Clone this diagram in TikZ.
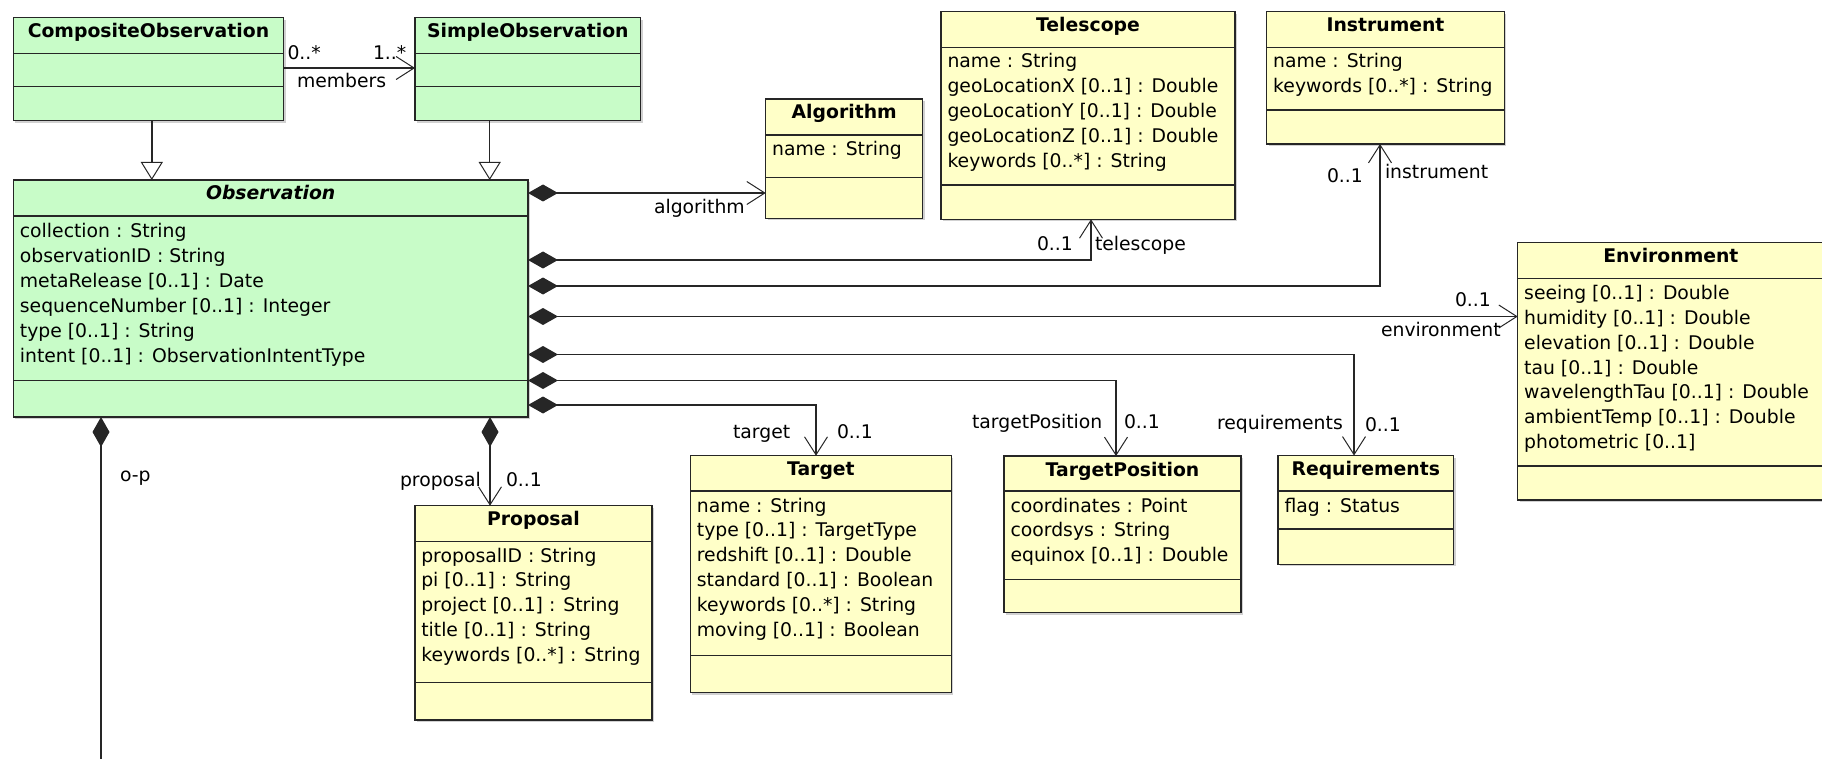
\documentclass[tikz,border=0pt]{standalone}
\usepackage{fontspec}
\setmainfont{DejaVu Sans}
\usetikzlibrary{arrows.meta,shadows}

\definecolor{umlgreen}{RGB}{200,252,200}
\definecolor{umlyellow}{RGB}{255,255,200}

\tikzset{
  every node/.style={font=\fontsize{18.8}{22}\selectfont, inner sep=0pt, outer sep=0pt},
  classbox/.style={draw=black!85, line width=1.5pt, inner sep=0pt, outer sep=0pt,
    general shadow={fill=black, opacity=0.18, shadow xshift=2pt, shadow yshift=-2pt}},
  sepline/.style={draw=black!85, line width=1.5pt},
  ctitle/.style={font=\fontsize{18.8}{22}\selectfont\bfseries, anchor=base},
  cattr/.style={anchor=base west},
  lbl/.style={anchor=base west},
  assoc/.style={draw=black!85, line width=1.5pt},
  navend/.style={-{Straight Barb[length=18pt,width=23pt,line width=1pt]}},
  compose/.style={{Diamond[length=30pt,width=17pt]}-{Straight Barb[length=18pt,width=23pt,line width=1pt]}},
  composeplain/.style={{Diamond[length=30pt,width=17pt]}-},
  inherit/.style={-{Triangle[length=18pt,width=22pt,line width=1pt,fill=white]}},
}

% class box: name, left, top, right, bottom, first separator, second separator, fill, title
\newcommand\umlclass[9]{%
  \node[classbox, fill=#8, minimum width={(#4-#2)*1pt}, minimum height={(#5-#3)*1pt},
        anchor=north west] (#1) at (#2,#3) {};
  \draw[sepline] (#2,#6) -- (#4,#6);
  \draw[sepline] (#2,#7) -- (#4,#7);
  \node[ctitle] (#1-t) at ({(#2+#4)/2},{#3+20}) {#9};
}
% attribute lines: class name, left, centre of first line, list
\newcommand\umlattrs[4]{%
  \foreach \a [count=\i] in {#4}
    \node[cattr] (#1-a\i) at ({#2+6.5},{#3+6+24.9*(\i-1)}) {\a};
}

\begin{document}
\begin{tikzpicture}[x=1pt,y=-1pt]
\useasboundingbox (0,0) rectangle (1822,759);
\clip (0,0) rectangle (1822,759);

% observation classes
\umlclass{comp}{13.4}{17.7}{283.5}{120.7}{53.3}{86.7}{umlgreen}{CompositeObservation}
\umlclass{simple}{415}{17.7}{640.6}{120.7}{53.3}{86.7}{umlgreen}{SimpleObservation}
\umlclass{obs}{13.4}{180}{528}{417}{216}{380.7}{umlgreen}{\itshape Observation}
\umlattrs{obs}{13.4}{232}{{collection : String},{observationID : String},{metaRelease [0..1] : Date},{sequenceNumber [0..1] : Integer},{type [0..1] : String},{intent [0..1] : ObservationIntentType}}

% provenance classes
\umlclass{alg}{765.7}{99}{922.7}{218.3}{135}{177.7}{umlyellow}{Algorithm}
\umlattrs{alg}{765.7}{150}{{name : String}}

\umlclass{tel}{941}{11.7}{1235}{219.3}{47.3}{185}{umlyellow}{Telescope}
\umlattrs{tel}{941}{61.7}{{name : String},{geoLocationX [0..1] : Double},{geoLocationY [0..1] : Double},{geoLocationZ [0..1] : Double},{keywords [0..*] : String}}

\umlclass{inst}{1266.7}{11.7}{1504.3}{144}{47.3}{110}{umlyellow}{Instrument}
\umlattrs{inst}{1266.7}{61.7}{{name : String},{keywords [0..*] : String}}

\umlclass{env}{1517.7}{242.7}{1824}{500}{278.3}{466}{umlyellow}{Environment}
\umlattrs{env}{1517.7}{293.3}{{seeing [0..1] : Double},{humidity [0..1] : Double},{elevation [0..1] : Double},{tau [0..1] : Double},{wavelengthTau [0..1] : Double},{ambientTemp [0..1] : Double},{photometric [0..1]}}

\umlclass{req}{1278}{455.5}{1453.5}{564.3}{491}{529}{umlyellow}{Requirements}
\umlattrs{req}{1278}{506}{{flag : Status}}

\umlclass{tpos}{1004}{456}{1241}{612.7}{491}{579.3}{umlyellow}{TargetPosition}
\umlattrs{tpos}{1004}{506}{{coordinates : Point},{coordsys : String},{equinox [0..1] : Double}}

\umlclass{target}{690.4}{455.7}{951.4}{692.7}{491}{655.7}{umlyellow}{Target}
\umlattrs{target}{690.4}{506}{{name : String},{type [0..1] : TargetType},{redshift [0..1] : Double},{standard [0..1] : Boolean},{keywords [0..*] : String},{moving [0..1] : Boolean}}

\umlclass{prop}{414.8}{505.7}{652}{720}{541.3}{682.3}{umlyellow}{Proposal}
\umlattrs{prop}{414.8}{556}{{proposalID : String},{pi [0..1] : String},{project [0..1] : String},{title [0..1] : String},{keywords [0..*] : String}}

% routing coordinates of the connectors
\coordinate (ymem) at (0,68);
\coordinate (xgc) at (151.8,0);
\coordinate (xgs) at (489.7,0);
\coordinate (yalg) at (0,193);
\coordinate (ytel) at (0,260);
\coordinate (xtel) at (1091,0);
\coordinate (yinst) at (0,286);
\coordinate (xinst) at (1380,0);
\coordinate (yenv) at (0,316.5);
\coordinate (yreq) at (0,354.5);
\coordinate (xreq) at (1354,0);
\coordinate (ytpos) at (0,380.5);
\coordinate (xtpos) at (1116,0);
\coordinate (ytgt) at (0,405);
\coordinate (xtgt) at (816,0);
\coordinate (xprop) at (490,0);
\coordinate (xop) at (101,0);
\coordinate (opend) at (101,775);

% members association
\draw[assoc, navend] (comp.east |- ymem) -- (simple.west |- ymem);
\node[lbl] (mem-m1) at (287.5,59.5) {0..*};
\node[lbl] (mem-m2) at (373,59.5) {1..*};
\node[lbl] (mem-r) at (297,88) {members};

% generalisations
\draw[assoc, inherit] (comp.south -| xgc) -- (obs.north -| xgc);
\draw[assoc, inherit] (simple.south -| xgs) -- (obs.north -| xgs);

% compositions from Observation
\draw[assoc, compose] (obs.east |- yalg) -- (alg.west |- yalg);
\node[lbl] (alg-r) at (654,214) {algorithm};

\draw[assoc, compose] (obs.east |- ytel) -| (tel.south -| xtel);
\node[lbl] (tel-m) at (1037,251) {0..1};
\node[lbl] (tel-r) at (1095,251) {telescope};

\draw[assoc, compose] (obs.east |- yinst) -| (inst.south -| xinst);
\node[lbl] (inst-m) at (1327,182.7) {0..1};
\node[lbl] (inst-r) at (1385,179) {instrument};

\draw[assoc, compose] (obs.east |- yenv) -- (env.west |- yenv);
\node[lbl] (env-m) at (1455,306.7) {0..1};
\node[lbl] (env-r) at (1381,336) {environment};

\draw[assoc, compose] (obs.east |- yreq) -| (req.north -| xreq);
\node[lbl] (req-r) at (1217,429) {requirements};
\node[lbl] (req-m) at (1365,431) {0..1};

\draw[assoc, compose] (obs.east |- ytpos) -| (tpos.north -| xtpos);
\node[lbl] (tpos-r) at (972,428) {targetPosition};
\node[lbl] (tpos-m) at (1124,428) {0..1};

\draw[assoc, compose] (obs.east |- ytgt) -| (target.north -| xtgt);
\node[lbl] (tgt-r) at (733,438.7) {target};
\node[lbl] (tgt-m) at (837,438.7) {0..1};

\draw[assoc, compose] (obs.south -| xprop) -- (prop.north -| xprop);
\node[lbl] (prop-r) at (400,486) {proposal};
\node[lbl] (prop-m) at (506,486) {0..1};

\draw[assoc, composeplain] (obs.south -| xop) -- (opend);
\node[lbl] (op-r) at (120,481) {o-p};
\end{tikzpicture}
\end{document}
